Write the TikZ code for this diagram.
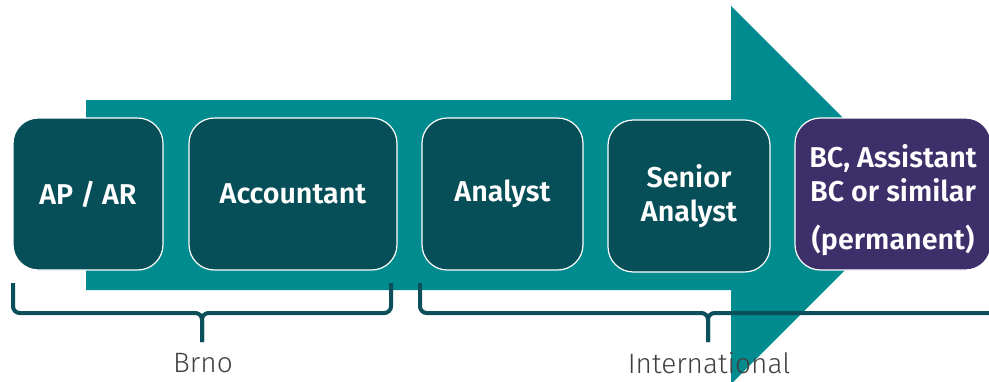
\documentclass[tikz,border=0pt]{standalone}
\usepackage{fontspec}
\setmainfont{Fira Sans}[BoldFont=Fira Sans SemiBold]
\newfontfamily\lightfont{Fira Sans Light}
\definecolor{arrowteal}{HTML}{008B8F}
\definecolor{stagefill}{HTML}{074F58}
\definecolor{bcpurple}{HTML}{3C2F6A}
\definecolor{bracecol}{HTML}{0A4F5A}
\definecolor{labelgrey}{HTML}{404040}

\begin{document}
\begin{tikzpicture}[x=0.75pt,y=-0.75pt,
    stagetext/.style={text=white,font=\fontsize{21.5}{26}\selectfont\bfseries,align=center,inner sep=0pt},
    stage/.style={stagetext,draw=white,line width=0.9pt,rounded corners=19pt,fill=stagefill,minimum height=114pt},
    brace/.style={draw=bracecol,line width=3pt,rounded corners=5pt},
    place/.style={text=labelgrey,font=\lightfont\fontsize{21}{24}\selectfont}]
    \useasboundingbox(0,0)rectangle(989,382);
    \fill[arrowteal](86,100)--(731,100)--(731,6)--(920,195)--(731,384)--(731,290)--(86,290)--cycle;

    \node[stage,minimum width=112.5pt](apar)at(88,194){AP / AR};
    \node[stage,minimum width=156pt](acct)at(293,194){Accountant};
    \node[stage,minimum width=120.75pt](analyst)at(502.5,194){Analyst};
    \node[stage,minimum width=121.5pt](senior)at(689,196){Senior\\Analyst};
    \node[stage,minimum width=147pt,fill=bcpurple](bc)at(893,194){};
    \node[stagetext](bctext)at(893,200){BC, Assistant\\BC or similar\\[10pt](permanent)};

    \coordinate(brnoL)at(13,283);
    \coordinate(brnoR)at(391,283);
    \coordinate(brnoMid)at(202,313);
    \coordinate(brnoTip)at(202,342);
    \draw[brace](brnoL)|-(brnoMid)--(brnoTip);
    \draw[brace](brnoR)|-(brnoMid)--(brnoTip);

    \coordinate(intlL)at(420,283);
    \coordinate(intlR)at(996,283);
    \coordinate(intlMid)at(708,313);
    \coordinate(intlTip)at(708,342);
    \draw[brace](intlL)|-(intlMid)--(intlTip);
    \draw[brace](intlR)|-(intlMid)--(intlTip);

    \node[place](brno)at(203,363){Brno};
    \node[place](intl)at(709,363){International};
\end{tikzpicture}
\end{document}
